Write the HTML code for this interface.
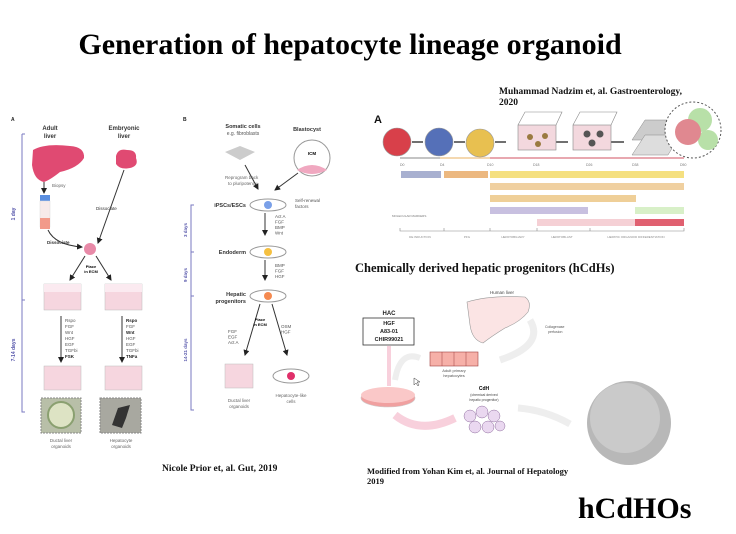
<!DOCTYPE html>
<html><head><meta charset="utf-8"><style>
html,body{margin:0;padding:0;background:#fff;}
svg{display:block;}
</style></head><body>
<svg width="736" height="534" viewBox="0 0 736 534" xmlns="http://www.w3.org/2000/svg" font-family="Liberation Sans, sans-serif">
<defs><marker id="ah" markerWidth="6" markerHeight="6" refX="5" refY="3" orient="auto"><path d="M0,0 L6,3 L0,6 Z" fill="#222"/></marker></defs>
<rect width="736" height="534" fill="#fff"/>
<text x="350" y="54" font-family="Liberation Serif, serif" font-weight="bold" font-size="30" text-anchor="middle" fill="#000">Generation of hepatocyte lineage organoid</text>

<!-- Panel A -->
<g font-size="5" fill="#555">
<text x="11" y="121" font-weight="bold" fill="#222">A</text>
<text x="50" y="130" font-weight="bold" text-anchor="middle" font-size="6" fill="#333">Adult</text>
<text x="50" y="138" font-weight="bold" text-anchor="middle" font-size="6" fill="#333">liver</text>
<text x="124" y="130" font-weight="bold" text-anchor="middle" font-size="6" fill="#333">Embryonic</text>
<text x="124" y="138" font-weight="bold" text-anchor="middle" font-size="6" fill="#333">liver</text>
</g>
<path d="M33,150 Q45,143 70,146 Q85,147 84,158 Q78,168 60,172 Q50,180 44,182 Q34,180 32,165 Z" fill="#e04a72"/>
<path d="M116,156 Q118,148 127,150 Q137,150 136,158 Q139,166 130,168 Q120,170 116,164 Z" fill="#e04a72"/>
<path d="M22,134 L25,134 M22,134 L22,412 L25,412 M22,300 L25,300" stroke="#7a7ac0" fill="none"/>
<text transform="translate(15,214) rotate(-90)" font-size="5" fill="#5555aa" text-anchor="middle" font-weight="bold">1 day</text>
<text transform="translate(15,350) rotate(-90)" font-size="5" fill="#5555aa" text-anchor="middle" font-weight="bold">7-14 days</text>
<line x1="44" y1="182" x2="44" y2="193" stroke="#333" marker-end="url(#ah)"/>
<rect x="40" y="195" width="10" height="6" fill="#5a8ee0"/>
<rect x="40" y="201" width="10" height="26" fill="#f7eaea" stroke="#ddd" stroke-width="0.5"/>
<rect x="40" y="218" width="10" height="11" fill="#f29a8a"/>
<text x="52" y="187" font-size="4.5" fill="#666">Biopsy</text>
<path d="M48,230 Q55,245 82,247" stroke="#333" fill="none" marker-end="url(#ah)"/>
<text x="47" y="244" font-size="4.5" fill="#333" font-weight="bold">Dissociate</text>
<line x1="124" y1="170" x2="98" y2="243" stroke="#333" marker-end="url(#ah)"/>
<text x="96" y="210" font-size="4.5" fill="#333">Dissociate</text>
<circle cx="90" cy="249" r="6" fill="#e88aa8"/>
<line x1="85" y1="256" x2="70" y2="280" stroke="#333" marker-end="url(#ah)"/>
<line x1="96" y1="256" x2="111" y2="280" stroke="#333" marker-end="url(#ah)"/>
<text x="91" y="268" font-size="4" font-weight="bold" text-anchor="middle">Place</text>
<text x="91" y="273" font-size="4" font-weight="bold" text-anchor="middle">in ECM</text>
<g>
<rect x="44" y="284" width="37" height="26" fill="#f6d6df" stroke="#bbb" stroke-width="0.5"/>
<rect x="44" y="284" width="37" height="8" fill="#fbeaf0"/>
<rect x="105" y="284" width="37" height="26" fill="#f6d6df" stroke="#bbb" stroke-width="0.5"/>
<rect x="105" y="284" width="37" height="8" fill="#fbeaf0"/>
<rect x="44" y="366" width="37" height="24" fill="#f6d6df" stroke="#bbb" stroke-width="0.5"/>
<rect x="105" y="366" width="37" height="24" fill="#f6d6df" stroke="#bbb" stroke-width="0.5"/>
</g>
<line x1="61" y1="316" x2="61" y2="362" stroke="#333" marker-end="url(#ah)"/>
<line x1="122" y1="316" x2="122" y2="362" stroke="#333" marker-end="url(#ah)"/>
<text x="65" y="322" font-size="4.5" fill="#555"><tspan x="65">Rspo</tspan><tspan x="65" dy="6">FGF</tspan><tspan x="65" dy="6">Wnt</tspan><tspan x="65" dy="6">HGF</tspan><tspan x="65" dy="6">EGF</tspan><tspan x="65" dy="6">TGFbi</tspan><tspan x="65" dy="6" font-weight="bold" fill="#222">FSK</tspan></text>
<text x="126" y="322" font-size="4.5" fill="#555"><tspan x="126" font-weight="bold" fill="#222">Rspo</tspan><tspan x="126" dy="6">FGF</tspan><tspan x="126" dy="6" font-weight="bold" fill="#222">Wnt</tspan><tspan x="126" dy="6">HGF</tspan><tspan x="126" dy="6">EGF</tspan><tspan x="126" dy="6">TGFbi</tspan><tspan x="126" dy="6" font-weight="bold" fill="#222">TNFa</tspan></text>
<rect x="41" y="398" width="40" height="35" fill="#b8bfa8" stroke="#888" stroke-dasharray="2,1"/>
<circle cx="61" cy="415" r="13" fill="#dde3c4" stroke="#8aa070" stroke-width="2"/>
<rect x="100" y="398" width="41" height="35" fill="#a8a8a0" stroke="#888" stroke-dasharray="2,1"/>
<path d="M112,425 L118,408 L130,405 L126,418 L122,428 Z" fill="#333"/>
<text x="61" y="442" font-size="4.5" fill="#666" text-anchor="middle">Ductal liver</text>
<text x="61" y="448" font-size="4.5" fill="#666" text-anchor="middle">organoids</text>
<text x="121" y="442" font-size="4.5" fill="#666" text-anchor="middle">Hepatocyte</text>
<text x="121" y="448" font-size="4.5" fill="#666" text-anchor="middle">organoids</text>

<!-- Panel B -->
<text x="183" y="121" font-size="5" font-weight="bold" fill="#222">B</text>
<text x="243" y="128" font-size="5.5" font-weight="bold" text-anchor="middle" fill="#333">Somatic cells</text>
<text x="243" y="135" font-size="5" text-anchor="middle" fill="#555">e.g. fibroblasts</text>
<text x="307" y="131" font-size="5.5" font-weight="bold" text-anchor="middle" fill="#333">Blastocyst</text>
<path d="M225,152 L240,146 L255,152 L240,160 Z" fill="#ccc"/>
<circle cx="312" cy="158" r="18" fill="#fff" stroke="#999"/>
<path d="M297,170 Q312,160 327,170 Q312,178 297,170 Z" fill="#f0a8c0"/>
<text x="312" y="155" font-size="4.5" font-weight="bold" text-anchor="middle">ICM</text>
<text x="225" y="179" font-size="4.5" fill="#666">Reprogram back</text>
<text x="228" y="185" font-size="4.5" fill="#666">to pluripotency</text>
<line x1="245" y1="165" x2="258" y2="189" stroke="#333" marker-end="url(#ah)"/>
<line x1="298" y1="173" x2="275" y2="190" stroke="#333" marker-end="url(#ah)"/>
<ellipse cx="268" cy="205" rx="18" ry="6" fill="#fff" stroke="#999"/>
<circle cx="268" cy="205" r="4" fill="#7aa0e8"/>
<text x="246" y="207" font-size="5.5" font-weight="bold" text-anchor="end" fill="#333">iPSCs/ESCs</text>
<text x="295" y="202" font-size="4.5" fill="#555">Self-renewal</text>
<text x="295" y="208" font-size="4.5" fill="#555">factors</text>
<line x1="265" y1="213" x2="265" y2="235" stroke="#333" marker-end="url(#ah)"/>
<text x="275" y="218" font-size="4.5" fill="#555"><tspan x="275">Act A</tspan><tspan x="275" dy="5.5">FGF</tspan><tspan x="275" dy="5.5">BMP</tspan><tspan x="275" dy="5.5">Wnt</tspan></text>
<ellipse cx="268" cy="252" rx="18" ry="6" fill="#fff" stroke="#999"/>
<circle cx="268" cy="252" r="4" fill="#f5c040"/>
<text x="246" y="254" font-size="5.5" font-weight="bold" text-anchor="end" fill="#333">Endoderm</text>
<line x1="265" y1="260" x2="265" y2="280" stroke="#333" marker-end="url(#ah)"/>
<text x="275" y="267" font-size="4.5" fill="#555"><tspan x="275">BMP</tspan><tspan x="275" dy="5.5">FGF</tspan><tspan x="275" dy="5.5">HGF</tspan></text>
<ellipse cx="268" cy="296" rx="18" ry="6" fill="#fff" stroke="#999"/>
<circle cx="268" cy="296" r="4" fill="#f58a50"/>
<text x="246" y="296" font-size="5.5" font-weight="bold" text-anchor="end" fill="#333">Hepatic</text>
<text x="246" y="303" font-size="5.5" font-weight="bold" text-anchor="end" fill="#333">progenitors</text>
<line x1="260" y1="304" x2="245" y2="355" stroke="#333" marker-end="url(#ah)"/>
<line x1="272" y1="304" x2="287" y2="355" stroke="#333" marker-end="url(#ah)"/>
<text x="260" y="321" font-size="4" font-weight="bold" text-anchor="middle">Place</text>
<text x="260" y="326" font-size="4" font-weight="bold" text-anchor="middle">in ECM</text>
<text x="228" y="333" font-size="4.5" fill="#555"><tspan x="228">FGF</tspan><tspan x="228" dy="5.5">EGF</tspan><tspan x="228" dy="5.5">Act A</tspan></text>
<text x="281" y="328" font-size="4.5" fill="#555"><tspan x="281">OSM</tspan><tspan x="281" dy="5.5">HGF</tspan></text>
<rect x="225" y="364" width="28" height="24" fill="#f6d6df" stroke="#bbb" stroke-width="0.5"/>
<ellipse cx="291" cy="376" rx="18" ry="7" fill="#fff" stroke="#999"/>
<circle cx="291" cy="376" r="4" fill="#e0306a"/>
<text x="239" y="402" font-size="4.5" fill="#666" text-anchor="middle">Ductal liver</text>
<text x="239" y="408" font-size="4.5" fill="#666" text-anchor="middle">organoids</text>
<text x="291" y="397" font-size="4.5" fill="#666" text-anchor="middle">Hepatocyte-like</text>
<text x="291" y="403" font-size="4.5" fill="#666" text-anchor="middle">cells</text>
<path d="M194,205 L191,205 L191,410 L194,410 M191,252 L194,252 M191,296 L194,296" stroke="#7a7ac0" fill="none"/>
<text transform="translate(187,230) rotate(-90)" font-size="4.5" fill="#5555aa" text-anchor="middle" font-weight="bold">3 days</text>
<text transform="translate(187,275) rotate(-90)" font-size="4.5" fill="#5555aa" text-anchor="middle" font-weight="bold">9 days</text>
<text transform="translate(187,350) rotate(-90)" font-size="4.5" fill="#5555aa" text-anchor="middle" font-weight="bold">14-21 days</text>
<text x="162" y="471" font-family="Liberation Serif, serif" font-weight="bold" font-size="9.5" fill="#111">Nicole Prior et, al. Gut, 2019</text>

<!-- Right top -->
<text x="499" y="94" font-family="Liberation Serif, serif" font-weight="bold" font-size="9.5" fill="#111">Muhammad Nadzim et, al. Gastroenterology,</text>
<text x="499" y="105" font-family="Liberation Serif, serif" font-weight="bold" font-size="9.5" fill="#111">2020</text>
<text x="374" y="123" font-size="11" font-weight="bold" fill="#111">A</text>
<circle cx="397" cy="142" r="14" fill="#d8404a" stroke="#999" stroke-width="0.6"/>
<circle cx="439" cy="142" r="14" fill="#5570b8" stroke="#999" stroke-width="0.6"/>
<circle cx="480" cy="143" r="14" fill="#e8c050" stroke="#999" stroke-width="0.6"/>
<g stroke="#111" stroke-width="1.2"><line x1="412" y1="142" x2="423" y2="142"/><line x1="454" y1="142" x2="465" y2="142"/><line x1="495" y1="142" x2="506" y2="142"/><line x1="556" y1="142" x2="568" y2="142"/><line x1="611" y1="142" x2="624" y2="142"/></g>
<rect x="518" y="125" width="38" height="25" fill="#f3d8de" stroke="#888" stroke-width="0.6"/>
<path d="M518,125 L525,112 L562,112 L556,125" fill="none" stroke="#888" stroke-width="0.6"/>
<rect x="573" y="125" width="38" height="25" fill="#f3d8de" stroke="#888" stroke-width="0.6"/>
<path d="M573,125 L580,112 L617,112 L611,125" fill="none" stroke="#888" stroke-width="0.6"/>
<g fill="#9a7a40"><circle cx="530" cy="137" r="3"/><circle cx="545" cy="136" r="3"/><circle cx="538" cy="144" r="3"/></g>
<g fill="#555"><circle cx="587" cy="134" r="3.5"/><circle cx="600" cy="134" r="3.5"/><circle cx="592" cy="143" r="3.5"/></g>
<path d="M632,140 L645,120 L680,120 L668,140 Z" fill="#ccc" stroke="#888" stroke-width="0.5"/>
<path d="M632,155 L645,135 L680,135 L668,155 Z" fill="#ddd" stroke="#888" stroke-width="0.5"/>
<circle cx="693" cy="130" r="28" fill="#fff" stroke="#555" stroke-dasharray="2,2"/>
<circle cx="700" cy="120" r="12" fill="#b8e0a8"/>
<circle cx="708" cy="140" r="10" fill="#b8e0a8"/>
<circle cx="688" cy="132" r="13" fill="#e08890"/>
<line x1="400" y1="158" x2="684" y2="158" stroke="#888"/>
<line x1="440" y1="158" x2="490" y2="158" stroke="#e8b060"/>
<line x1="490" y1="158" x2="684" y2="158" stroke="#d05060"/>
<g font-size="3.5" fill="#777"><text x="400" y="166">D0</text><text x="440" y="166">D4</text><text x="487" y="166">D10</text><text x="533" y="166">D18</text><text x="586" y="166">D26</text><text x="632" y="166">D38</text><text x="680" y="166">D50</text></g>
<rect x="401" y="171" width="40" height="7" fill="#a8b0d0"/>
<rect x="444" y="171" width="44" height="7" fill="#ecb880"/>
<rect x="490" y="171" width="194" height="7" fill="#f5e080"/>
<rect x="490" y="183" width="194" height="7" fill="#f0d0a0"/>
<rect x="490" y="195" width="146" height="7" fill="#efcf98"/>
<rect x="490" y="207" width="98" height="7" fill="#c8c0e0"/>
<rect x="635" y="207" width="49" height="7" fill="#d8f0c8"/>
<rect x="537" y="219" width="98" height="7" fill="#f5d0d5"/>
<rect x="635" y="219" width="49" height="7" fill="#e06070"/>
<text x="392" y="217" font-size="3" fill="#777">MOLECULAR MARKERS</text>
<path d="M400,228 v3 h284 v-3 M444,228 v3 M490,228 v3 M537,228 v3 M590,228 v3" stroke="#888" fill="none" stroke-width="0.6"/>
<g font-size="3" fill="#888" text-anchor="middle"><text x="420" y="238">DE INDUCTION</text><text x="467" y="238">PFG</text><text x="513" y="238">HEPATOBILIARY</text><text x="562" y="238">HEPATOBLAST</text><text x="636" y="238">HEPATIC ORGANOID DIFFERENTIATION</text></g>
<text x="355" y="272" font-family="Liberation Serif, serif" font-weight="bold" font-size="12.5" fill="#111">Chemically derived hepatic progenitors (hCdHs)</text>

<!-- Right bottom -->
<text x="389" y="315" font-size="6" font-weight="bold" text-anchor="middle" fill="#222">HAC</text>
<rect x="363" y="318" width="51" height="27" fill="#fff" stroke="#333" stroke-width="0.8"/>
<text x="389" y="325" font-size="5.5" font-weight="bold" text-anchor="middle" fill="#222"><tspan x="389">HGF</tspan><tspan x="389" dy="8">A83-01</tspan><tspan x="389" dy="8">CHIR99021</tspan></text>
<rect x="387" y="346" width="4" height="40" fill="#f8d0dc"/>
<path d="M395,380 Q400,350 420,358" stroke="#eee" stroke-width="6" fill="none"/>
<ellipse cx="388" cy="398" rx="27" ry="9" fill="#f0a0a0" stroke="#ccc" stroke-width="0.6"/>
<ellipse cx="388" cy="395" rx="27" ry="8" fill="#fac8c8"/>
<path d="M395,415 Q420,435 455,418" stroke="#f8d0dc" stroke-width="8" fill="none"/>
<text x="502" y="294" font-size="4.5" fill="#444" text-anchor="middle">Human liver</text>
<path d="M467,302 Q490,295 525,297 Q532,302 528,312 Q520,322 505,328 Q492,336 483,343 Q472,340 470,325 Z" fill="#fbe4e4" stroke="#999" stroke-width="0.6"/>
<path d="M530,320 Q545,345 500,360" stroke="#eee" stroke-width="7" fill="none"/>
<text x="545" y="328" font-size="3.5" fill="#555">Collagenase</text>
<text x="548" y="333" font-size="3.5" fill="#555">perfusion</text>
<rect x="430" y="352" width="48" height="14" fill="#f6b0a8" stroke="#a04040" stroke-width="0.6"/>
<g stroke="#a04040" stroke-width="0.5"><line x1="442" y1="352" x2="442" y2="366"/><line x1="454" y1="352" x2="454" y2="366"/><line x1="466" y1="352" x2="466" y2="366"/></g>
<text x="454" y="372" font-size="4" fill="#555" text-anchor="middle">Adult primary</text>
<text x="454" y="377" font-size="4" fill="#555" text-anchor="middle">hepatocytes</text>
<path d="M414,378 l0,7 l2,-2 l2,3 l1,-1 l-2,-3 l3,0 Z" fill="#fff" stroke="#333" stroke-width="0.5"/>
<text x="484" y="390" font-size="5" font-weight="bold" text-anchor="middle">CdH</text>
<text x="484" y="396" font-size="3.5" text-anchor="middle" fill="#444">(chemical derived</text>
<text x="484" y="401" font-size="3.5" text-anchor="middle" fill="#444">hepatic progenitor)</text>
<g fill="#ead8f0" stroke="#9070a0" stroke-width="0.5"><circle cx="470" cy="416" r="6"/><circle cx="482" cy="412" r="6"/><circle cx="494" cy="416" r="6"/><circle cx="475" cy="427" r="6"/><circle cx="488" cy="427" r="6"/><circle cx="500" cy="426" r="5"/></g>
<path d="M518,408 Q545,410 570,424" stroke="#eee" stroke-width="7" fill="none"/>
<circle cx="629" cy="423" r="42" fill="#b8b8b8"/>
<circle cx="625" cy="418" r="35" fill="#cacaca"/>
<text x="367" y="474" font-family="Liberation Serif, serif" font-weight="bold" font-size="8.5" fill="#111">Modified from Yohan Kim et, al. Journal of Hepatology</text>
<text x="367" y="484" font-family="Liberation Serif, serif" font-weight="bold" font-size="8.5" fill="#111">2019</text>
<text x="578" y="518" font-family="Liberation Serif, serif" font-weight="bold" font-size="30" fill="#000">hCdHOs</text>
</svg>
</body></html>
